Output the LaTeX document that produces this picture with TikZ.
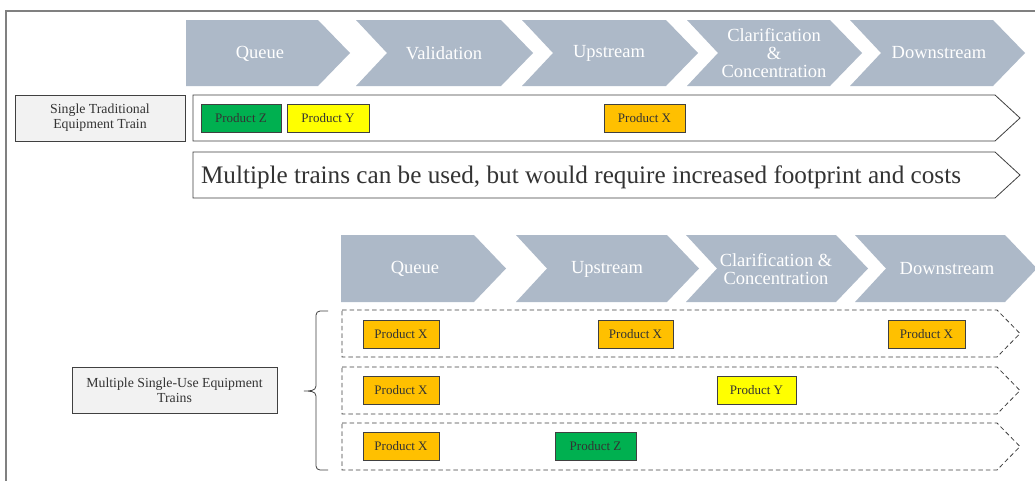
\documentclass[tikz,border=0pt]{standalone}
\usepackage{fontspec}
\setmainfont{Liberation Serif}
\begin{document}
\begin{tikzpicture}[x=1pt,y=-1pt,
  stage/.style={fill=chev,draw=none},
  stagetext/.style={text=white,align=center,inner sep=0pt,font=\fontsize{18.5}{19}\selectfont},
  trainsolid/.style={draw=edge,line width=0.8pt,fill=white},
  traindash/.style={draw=edge,line width=0.8pt,dash pattern=on 4.5pt off 3pt},
  labelbox/.style={draw=edge,fill=lbl,line width=0.8pt,text=txt,align=center,inner sep=0pt,
    font=\fontsize{13.8}{15}\selectfont},
  prod/.style={draw=edge,line width=0.8pt,minimum height=28pt,inner sep=0pt,text=txt,
    font=\fontsize{13}{14}\selectfont},
]
\definecolor{chev}{HTML}{ADB9C8}
\definecolor{edge}{HTML}{404040}
\definecolor{lbl}{HTML}{F2F2F2}
\definecolor{txt}{HTML}{333333}
\definecolor{frame}{HTML}{808080}
\definecolor{pgreen}{HTML}{00B050}
\definecolor{pyellow}{HTML}{FFFF00}
\definecolor{porange}{HTML}{FFC000}

\useasboundingbox (0,0) rectangle (1035,480);
\clip (0,0) rectangle (1035,480);
\fill[white] (0,0) rectangle (1035,480);

% outer frame
\draw[frame,line width=1.2pt] (6,490) -- (6,11) -- (1045,11);

% ---- top process chevrons ----
\fill[stage] (186,20) -- (318,20) -- (350,53) -- (318,86) -- (186,86) -- cycle;
\fill[stage] (356,20) -- (501,20) -- (533,53) -- (501,86) -- (356,86) -- (387,53) -- cycle;
\fill[stage] (522,20) -- (666,20) -- (698,53) -- (666,86) -- (522,86) -- (553,53) -- cycle;
\fill[stage] (687,20) -- (830,20) -- (862,53) -- (830,86) -- (687,86) -- (718,53) -- cycle;
\fill[stage] (850,20) -- (993,20) -- (1025,53) -- (993,86) -- (850,86) -- (881,53) -- cycle;
\node[stagetext] (tq) at (260,53.5) {Queue};
\node[stagetext] (tv) at (444,53) {Validation};
\node[stagetext] (tu) at (609,53) {Upstream};
\node[stagetext] (tc) at (774,53) {Clarification\\[-1pt]\&\\[-1pt]Concentration};
\node[stagetext] (td) at (939,53) {Downstream};

% ---- single traditional train ----
\node[labelbox,minimum width=170pt,minimum height=46pt] (single) at (100,118)
  {Single Traditional\\Equipment Train};
\draw[trainsolid] (193,95) -- (995,95) -- (1020,118) -- (995,141) -- (193,141) -- cycle;
\node[prod,fill=pgreen,minimum width=80pt] (sz) at (241,118) {Product Z};
\node[prod,fill=pyellow,minimum width=82pt] (sy) at (328,118) {Product Y};
\node[prod,fill=porange,minimum width=81pt] (sx) at (644.5,118) {Product X};

\draw[trainsolid] (193,152) -- (995,152) -- (1020,175) -- (995,198) -- (193,198) -- cycle;
\node[text=txt,inner sep=0pt,font=\fontsize{25.2}{27}\selectfont] (note) at (581,177)
  {Multiple trains can be used, but would require increased footprint and costs};

% ---- bottom process chevrons ----
\fill[stage] (341,235) -- (474,235) -- (506,268.5) -- (474,302) -- (341,302) -- cycle;
\fill[stage] (516,235) -- (667,235) -- (699,268.5) -- (667,302) -- (516,302) -- (547,268.5) -- cycle;
\fill[stage] (686,235) -- (836,235) -- (868,268.5) -- (836,302) -- (686,302) -- (717,268.5) -- cycle;
\fill[stage] (855,235) -- (1005,235) -- (1037,268.5) -- (1005,302) -- (855,302) -- (886,268.5) -- cycle;
\node[stagetext] (bq) at (415,269) {Queue};
\node[stagetext] (bu) at (607,269) {Upstream};
\node[stagetext] (bc) at (776,269) {Clarification \&\\[-1pt]Concentration};
\node[stagetext] (bd) at (947,269) {Downstream};

% ---- multiple single-use trains ----
\node[labelbox,minimum width=205pt,minimum height=46pt] (multi) at (174.5,390)
  {Multiple Single-Use Equipment\\Trains};

\draw[traindash] (342,310) -- (997,310) -- (1020,333.5) -- (997,357) -- (342,357) -- cycle;
\draw[traindash] (342,367) -- (997,367) -- (1020,390.5) -- (997,414) -- (342,414) -- cycle;
\draw[traindash] (342,423) -- (997,423) -- (1020,446.5) -- (997,470) -- (342,470) -- cycle;

\node[prod,fill=porange,minimum width=76pt] (r1a) at (401,334) {Product X};
\node[prod,fill=porange,minimum width=75pt] (r1b) at (635.5,334) {Product X};
\node[prod,fill=porange,minimum width=77pt] (r1c) at (926.5,334) {Product X};
\node[prod,fill=porange,minimum width=76pt] (r2a) at (401,390.5) {Product X};
\node[prod,fill=pyellow,minimum width=79pt] (r2b) at (756.5,390.5) {Product Y};
\node[prod,fill=porange,minimum width=76pt] (r3a) at (401,446.5) {Product X};
\node[prod,fill=pgreen,minimum width=81pt] (r3b) at (595.5,446.5) {Product Z};

% brace grouping the three trains
\coordinate (bt) at (328,311);
\coordinate (bb) at (328,470);
\coordinate (bm) at (304,391);
\draw[edge,line width=0.8pt] (bt) -- (320,311) to[out=180,in=90] (316,315) -- (316,386)
  to[out=-90,in=0] (bm) to[out=0,in=90] (316,396) -- (316,466)
  to[out=-90,in=180] (320,470) -- (bb);
\end{tikzpicture}
\end{document}
